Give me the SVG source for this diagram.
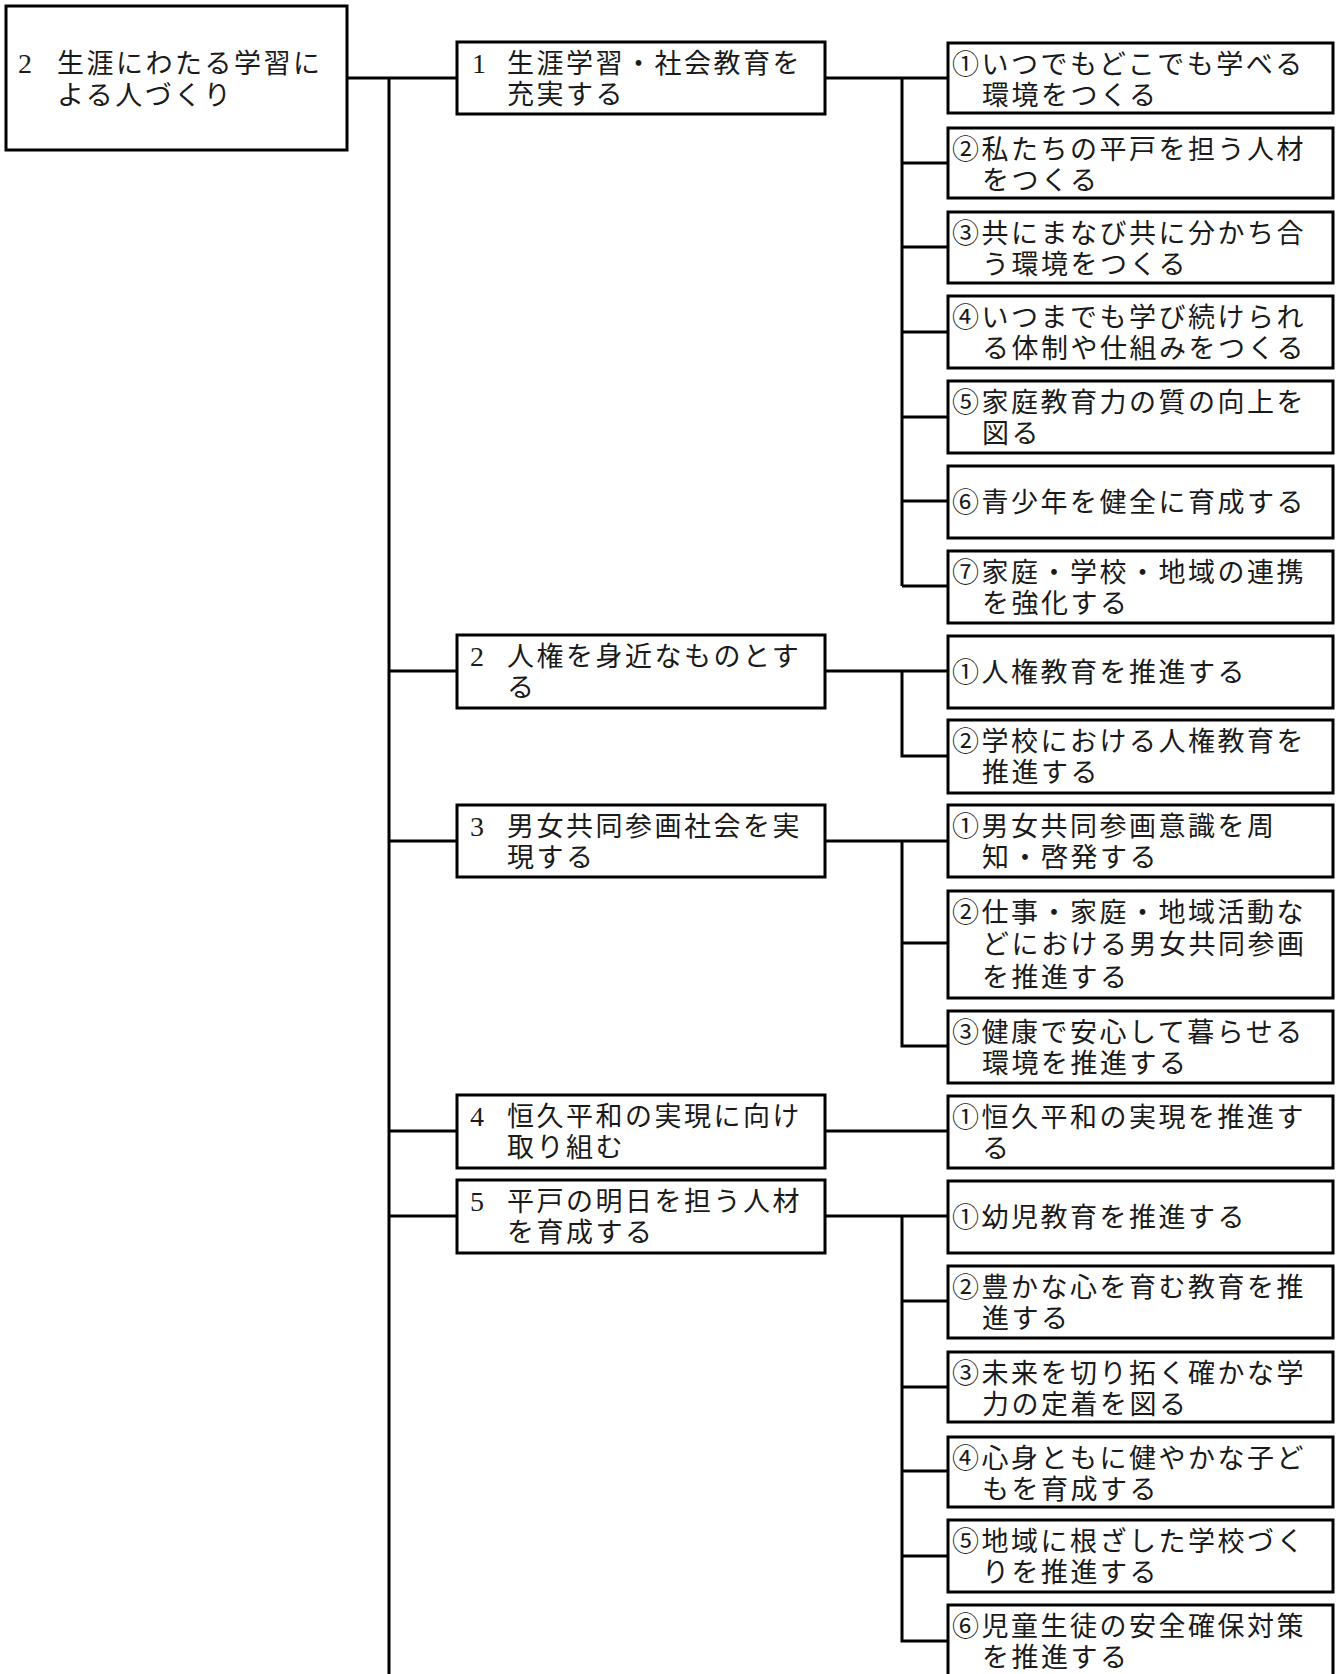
<svg xmlns="http://www.w3.org/2000/svg" width="1339" height="1674" viewBox="0 0 1339 1674">
<style>
rect.b{fill:#fff;stroke:#000;stroke-width:3}
#connectors path{fill:none;stroke:#000;stroke-width:3}
text{font-family:"Noto Sans CJK JP","Noto Sans CJK SC",sans-serif;font-size:27px;letter-spacing:2.5px;fill:#1a1a1a}
tspan.d{font-family:"Liberation Serif","Noto Sans CJK JP",serif;font-size:28px;letter-spacing:0}
</style>
<rect width="1339" height="1674" fill="#fff"/>
<g id="connectors">
<path d="M347,78H457M389,78V1674"/>
<path d="M389,671H457M389,841H457M389,1131H457M389,1216H457"/>
<path d="M825,78H948M902,78V586M902,163H948M902,247H948M902,332H948M902,417H948M902,501H948M902,586H948"/>
<path d="M825,671H948M902,671V756H948"/>
<path d="M825,841H948M902,841V1046H948M902,943H948"/>
<path d="M825,1131H948"/>
<path d="M825,1216H948M902,1216V1641H948M902,1301H948M902,1387H948M902,1471H948M902,1556H948"/>
</g>
<g id="root"><rect class="b" x="6" y="6" width="341" height="144"/><text y="73"><tspan class="d" x="18">2</tspan><tspan x="57">生涯にわたる学習に</tspan></text><text x="57" y="105">よる人づくり</text></g>
<g id="m1"><rect class="b" x="457" y="42" width="368" height="72"/><text y="73"><tspan class="d" x="472">1</tspan><tspan x="507">生涯学習・社会教育を</tspan></text><text x="507" y="104">充実する</text></g>
<g id="m2"><rect class="b" x="457" y="635" width="368" height="73"/><text y="666"><tspan class="d" x="470">2</tspan><tspan x="507">人権を身近なものとす</tspan></text><text x="507" y="697">る</text></g>
<g id="m3"><rect class="b" x="457" y="805" width="368" height="72"/><text y="836"><tspan class="d" x="470">3</tspan><tspan x="507">男女共同参画社会を実</tspan></text><text x="507" y="867">現する</text></g>
<g id="m4"><rect class="b" x="457" y="1095" width="368" height="73"/><text y="1126"><tspan class="d" x="470">4</tspan><tspan x="507">恒久平和の実現に向け</tspan></text><text x="507" y="1157">取り組む</text></g>
<g id="m5"><rect class="b" x="457" y="1180" width="368" height="73"/><text y="1211"><tspan class="d" x="470">5</tspan><tspan x="507">平戸の明日を担う人材</tspan></text><text x="507" y="1242">を育成する</text></g>
<g id="l1"><rect class="b" x="948" y="43" width="385" height="70"/><text x="952" y="74">①いつでもどこでも学べる</text><text x="982" y="105">環境をつくる</text></g>
<g id="l2"><rect class="b" x="948" y="128" width="385" height="70"/><text x="952" y="159">②私たちの平戸を担う人材</text><text x="982" y="190">をつくる</text></g>
<g id="l3"><rect class="b" x="948" y="212" width="385" height="71"/><text x="952" y="243">③共にまなび共に分かち合</text><text x="982" y="274">う環境をつくる</text></g>
<g id="l4"><rect class="b" x="948" y="296" width="385" height="72"/><text x="952" y="327">④いつまでも学び続けられ</text><text x="982" y="358">る体制や仕組みをつくる</text></g>
<g id="l5"><rect class="b" x="948" y="381" width="385" height="72"/><text x="952" y="412">⑤家庭教育力の質の向上を</text><text x="982" y="443">図る</text></g>
<g id="l6"><rect class="b" x="948" y="466" width="385" height="72"/><text x="952" y="512">⑥青少年を健全に育成する</text></g>
<g id="l7"><rect class="b" x="948" y="551" width="385" height="72"/><text x="952" y="582">⑦家庭・学校・地域の連携</text><text x="982" y="613">を強化する</text></g>
<g id="l8"><rect class="b" x="948" y="636" width="385" height="72"/><text x="952" y="682">①人権教育を推進する</text></g>
<g id="l9"><rect class="b" x="948" y="720" width="385" height="73"/><text x="952" y="751">②学校における人権教育を</text><text x="982" y="782">推進する</text></g>
<g id="l10"><rect class="b" x="948" y="805" width="385" height="72"/><text x="952" y="836">①男女共同参画意識を周</text><text x="982" y="867">知・啓発する</text></g>
<g id="l11"><rect class="b" x="948" y="891" width="385" height="107"/><text x="952" y="922">②仕事・家庭・地域活動な</text><text x="982" y="954">どにおける男女共同参画</text><text x="982" y="987">を推進する</text></g>
<g id="l12"><rect class="b" x="948" y="1011" width="385" height="72"/><text x="952" y="1042">③健康で安心して暮らせる</text><text x="982" y="1073">環境を推進する</text></g>
<g id="l13"><rect class="b" x="948" y="1096" width="385" height="72"/><text x="952" y="1127">①恒久平和の実現を推進す</text><text x="982" y="1158">る</text></g>
<g id="l14"><rect class="b" x="948" y="1181" width="385" height="72"/><text x="952" y="1227">①幼児教育を推進する</text></g>
<g id="l15"><rect class="b" x="948" y="1266" width="385" height="72"/><text x="952" y="1297">②豊かな心を育む教育を推</text><text x="982" y="1328">進する</text></g>
<g id="l16"><rect class="b" x="948" y="1352" width="385" height="70"/><text x="952" y="1383">③未来を切り拓く確かな学</text><text x="982" y="1414">力の定着を図る</text></g>
<g id="l17"><rect class="b" x="948" y="1437" width="385" height="70"/><text x="952" y="1468">④心身ともに健やかな子ど</text><text x="982" y="1499">もを育成する</text></g>
<g id="l18"><rect class="b" x="948" y="1520" width="385" height="72"/><text x="952" y="1551">⑤地域に根ざした学校づく</text><text x="982" y="1582">りを推進する</text></g>
<g id="l19"><rect class="b" x="948" y="1605" width="385" height="80"/><text x="952" y="1636">⑥児童生徒の安全確保対策</text><text x="982" y="1667">を推進する</text></g>
</svg>
